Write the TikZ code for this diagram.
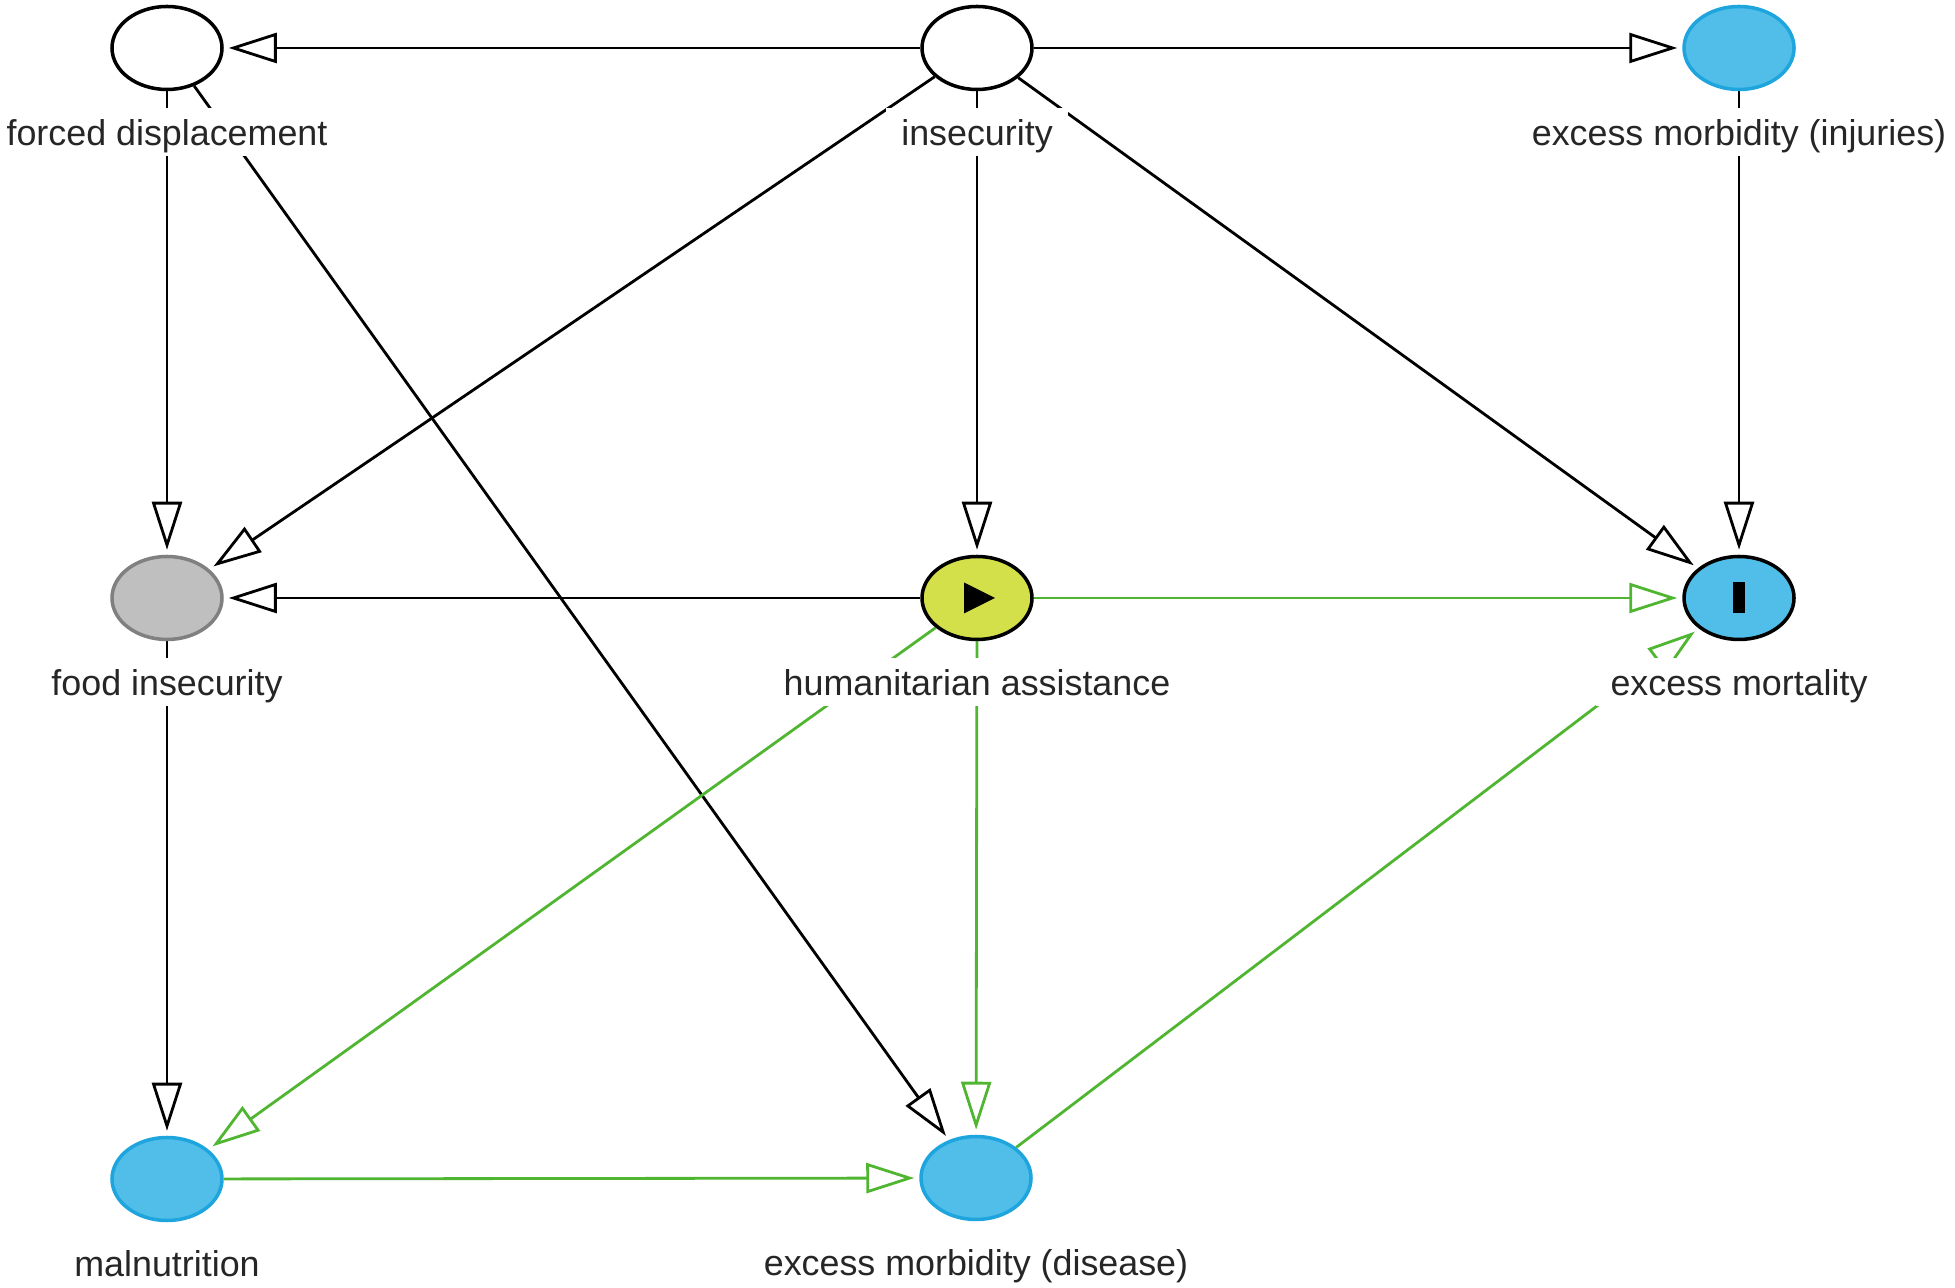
\documentclass[tikz,border=0pt]{standalone}
\usepackage{fontspec}
\setmainfont{Liberation Sans}
\usepackage{tikz}
\usetikzlibrary{
    shapes.geometric, % ellipse
    arrows.meta,      % open triangle tips
    positioning,      % labels below the nodes
    backgrounds       % edges behind the labels
}
\definecolor{nodeblue}{RGB}{80,190,232}
\definecolor{blueline}{RGB}{30,165,222}
\definecolor{expgreen}{RGB}{212,224,74}
\definecolor{pathgreen}{RGB}{80,182,50}

\begin{document}
\begin{tikzpicture}[
    node distance=0.16cm,
    var/.style={draw, ellipse, line width=1pt, minimum width=1.10cm, minimum height=0.83cm, inner sep=0pt},
    latent/.style={var, fill=white},
    outcome/.style={var, draw=blueline, fill=nodeblue},
    adjusted/.style={var, draw=black!50, fill=black!25},
    exposure/.style={var, fill=expgreen},
    mainoutcome/.style={var, fill=nodeblue},
    lbl/.style={fill=white, inner xsep=0.15cm, inner ysep=0.055cm, text height=0.9em, text depth=0.15em,
        font=\fontsize{10.2}{12}\selectfont, text=black!85},
    arrow/.style={-{Triangle[open, length=0.48cm, width=0.30cm]}, line width=0.8pt, shorten >=0.05cm},
    greenarrow/.style={arrow, draw=pathgreen},
  ]
    \useasboundingbox (0,0) rectangle (19.55,12.88);

    % Top row
    \node[latent] (fd) at (1.67,12.40) {};
    \node[latent] (ins) at (9.77,12.40) {};
    \node[outcome] (inj) at (17.39,12.40) {};

    % Middle row
    \node[adjusted] (fi) at (1.67,6.90) {};
    \node[exposure] (ha) at (9.77,6.90) {};
    \node[mainoutcome] (mort) at (17.39,6.90) {};

    % Bottom row
    \node[outcome] (mal) at (1.67,1.09) {};
    \node[outcome] (dis) at (9.76,1.10) {};

    % Exposure and outcome marks
    \fill ([shift={(-0.13,0.155)}]ha.center) -- ([shift={(0.18,0)}]ha.center)
        -- ([shift={(-0.13,-0.155)}]ha.center) -- cycle;
    \fill ([shift={(-0.06,-0.155)}]mort.center) rectangle ([shift={(0.06,0.155)}]mort.center);

    % Labels
    \node[lbl, below=of fd] (fd-lab) {forced displacement};
    \node[lbl, below=of ins] (ins-lab) {insecurity};
    \node[lbl, below=of inj] (inj-lab) {excess morbidity (injuries)};
    \node[lbl, below=of fi] (fi-lab) {food insecurity};
    \node[lbl, below=of ha] (ha-lab) {humanitarian assistance};
    \node[lbl, below=of mort] (mort-lab) {excess mortality};
    \node[lbl, below=of mal] (mal-lab) {malnutrition};
    \node[lbl, below=of dis] (dis-lab) {excess morbidity (disease)};

    % Arrows
    \begin{scope}[on background layer]
      \draw[arrow] (ins) -- (fd);
      \draw[arrow] (ins) -- (inj);
      \draw[arrow] (ins) -- (fi);
      \draw[arrow] (ins) -- (ha);
      \draw[arrow] (ins) -- (mort);
      \draw[arrow] (fd) -- (fi);
      \draw[arrow] (fd) -- (dis);
      \draw[arrow] (inj) -- (mort);
      \draw[arrow] (ha) -- (fi);
      \draw[arrow] (fi) -- (mal);

      \draw[greenarrow] (ha) -- (mort);
      \draw[greenarrow] (ha) -- (mal);
      \draw[greenarrow] (ha) -- (dis);
      \draw[greenarrow] (mal) -- (dis);
      \draw[greenarrow] (dis) -- (mort);
    \end{scope}
  \end{tikzpicture}
\end{document}
